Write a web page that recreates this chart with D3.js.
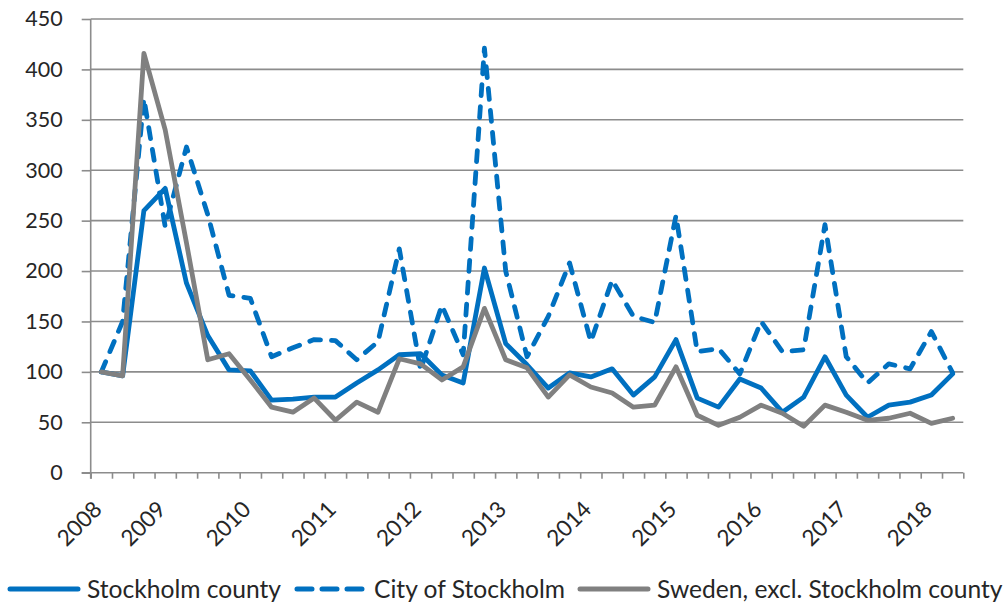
<!DOCTYPE html>
<meta charset="utf-8">
<script src="https://d3js.org/d3.v7.min.js"></script>
<style>
  body { margin: 0; background: #fff; }
  text { font-family: Lato, "Liberation Sans", sans-serif; fill: #262626; }
</style>
<div id="chart"></div>
<script>
// quarters, 2008 Q2 - 2018 Q2
var quarters = ["2008Q2","2008Q3","2008Q4",
  "2009Q1","2009Q2","2009Q3","2009Q4",
  "2010Q1","2010Q2","2010Q3","2010Q4",
  "2011Q1","2011Q2","2011Q3","2011Q4",
  "2012Q1","2012Q2","2012Q3","2012Q4",
  "2013Q1","2013Q2","2013Q3","2013Q4",
  "2014Q1","2014Q2","2014Q3","2014Q4",
  "2015Q1","2015Q2","2015Q3","2015Q4",
  "2016Q1","2016Q2","2016Q3","2016Q4",
  "2017Q1","2017Q2","2017Q3","2017Q4",
  "2018Q1","2018Q2"];

// quarters that carry a year label
var yearTicks = ["2008Q2","2009Q1","2010Q1","2011Q1","2012Q1","2013Q1",
  "2014Q1","2015Q1","2016Q1","2017Q1","2018Q1"];

var stockholmCounty = [100, 96, 260, 282, 188, 136, 102, 101, 72, 73, 75,
  75, 89, 102, 117, 118, 97, 89, 203, 128, 107, 84, 99, 95, 103, 77, 95,
  132, 74, 65, 93, 84, 60, 75, 115, 77, 55, 67, 70, 77, 98];

var cityOfStockholm = [100, 150, 371, 244, 323, 256, 176, 173, 115, 124, 132,
  131, 112, 130, 222, 102, 166, 117, 421, 200, 115, 155, 208, 130, 191, 155, 149,
  255, 120, 123, 98, 150, 120, 122, 246, 115, 89, 108, 103, 140, 99];

var swedenExcl = [100, 96, 416, 340, 228, 112, 118, 92, 65, 60, 74,
  52, 70, 60, 113, 108, 92, 105, 163, 112, 104, 75, 97, 85, 79, 65, 67,
  105, 57, 47, 55, 67, 59, 46, 67, 60, 52, 54, 59, 49, 54];

var yTicks = [0, 50, 100, 150, 200, 250, 300, 350, 400, 450];

var series = [
  {name: "Stockholm county", values: stockholmCounty, color: "#0070C0", dash: null},
  {name: "City of Stockholm", values: cityOfStockholm, color: "#0070C0", dash: "11,11"},
  {name: "Sweden, excl. Stockholm county", values: swedenExcl, color: "#808080", dash: null}
];

var W = 1008, H = 602;
var plotLeft = 90.7, plotRight = 963.3, plotTop = 19, plotBottom = 472.7;

var svg = d3.select("#chart").append("svg")
  .attr("width", W).attr("height", H);

var x = d3.scaleBand().domain(quarters).range([plotLeft, plotRight]).padding(0);
var xb = d3.scaleLinear().domain([0, quarters.length]).range([plotLeft, plotRight]);
var y = d3.scaleLinear().domain([0, 450]).range([plotBottom, plotTop]);

// gridlines + y axis
var gy = svg.append("g")
  .attr("transform", "translate(" + plotLeft + ",0)")
  .call(d3.axisLeft(y).tickValues(yTicks).tickSize(9).tickPadding(19));
gy.select(".domain").remove();
gy.selectAll(".tick line").attr("stroke", "#8c8c8c").attr("stroke-width", 1.6);
gy.selectAll(".tick text").style("font-size", "21.5px");
svg.append("g").selectAll("line")
  .data(yTicks.filter(function (d) { return d > 0; }))
  .enter().append("line")
    .attr("x1", plotLeft).attr("x2", plotRight)
    .attr("y1", function (d) { return y(d); })
    .attr("y2", function (d) { return y(d); })
    .attr("stroke", "#8c8c8c").attr("stroke-width", 1.6);

// x axis ticks between categories
var gx = svg.append("g")
  .attr("transform", "translate(0," + plotBottom + ")")
  .call(d3.axisBottom(xb).tickValues(d3.range(quarters.length + 1)).tickFormat("").tickSize(6));
gx.select(".domain").remove();
gx.selectAll(".tick line").attr("stroke", "#8c8c8c").attr("stroke-width", 1.6);
svg.append("line")
  .attr("x1", plotLeft - 9).attr("x2", plotRight)
  .attr("y1", plotBottom).attr("y2", plotBottom)
  .attr("stroke", "#8c8c8c").attr("stroke-width", 1.6);
svg.append("line")
  .attr("x1", plotLeft).attr("x2", plotLeft)
  .attr("y1", plotTop).attr("y2", plotBottom + 6)
  .attr("stroke", "#8c8c8c").attr("stroke-width", 1.6);

// year labels, rotated (band axis already centres the ticks)
var gl = svg.append("g")
  .attr("transform", "translate(0," + plotBottom + ")")
  .call(d3.axisBottom(x).tickValues(yearTicks).tickSize(0)
    .tickFormat(function (d) { return d.slice(0, 4); }));
gl.select(".domain").remove();
gl.selectAll(".tick text")
  .style("font-size", "22.5px")
  .attr("text-anchor", "end")
  .attr("x", 0).attr("y", 0).attr("dy", 0)
  .attr("transform", "translate(2,38) rotate(-45)");

// lines
var line = d3.line()
  .x(function (d, i) { return x(quarters[i]) + x.bandwidth() / 2; })
  .y(function (d) { return y(d); });

svg.append("g").selectAll("path")
  .data([series[1], series[0], series[2]])
  .enter().append("path")
    .attr("d", function (s) { return line(s.values); })
    .attr("fill", "none")
    .attr("stroke", function (s) { return s.color; })
    .attr("stroke-width", 4.8)
    .attr("stroke-linejoin", "round")
    .attr("stroke-linecap", "round")
    .attr("stroke-dasharray", function (s) { return s.dash; });

// legend
var legendX = [8, 295, 578];
var lg = svg.append("g").selectAll("g")
  .data(series).enter().append("g")
    .attr("transform", function (d, i) { return "translate(" + legendX[i] + ",589)"; });
lg.append("line")
  .attr("x1", 2).attr("x2", 70)
  .attr("stroke", function (d) { return d.color; })
  .attr("stroke-width", 5)
  .attr("stroke-linecap", "round")
  .attr("stroke-dasharray", function (d) { return d.dash ? "15,10" : null; });
lg.append("text")
  .attr("x", 79).attr("y", 0).attr("dy", "0.36em")
  .style("font-size", "24.6px")
  .text(function (d) { return d.name; });
</script>
